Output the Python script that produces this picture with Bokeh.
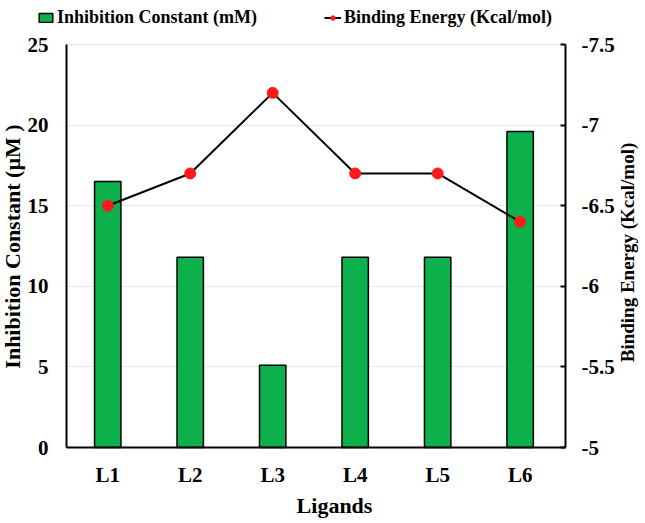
import math
from bokeh.plotting import figure
from bokeh.models import (Range1d, LinearAxis, FixedTicker, Legend, LegendItem,
                          Label)
from bokeh.embed import file_html
from bokeh.resources import INLINE

# ---- data ----
ligands = ["L1", "L2", "L3", "L4", "L5", "L6"]
inhibition = [16.5, 11.8, 5.1, 11.8, 11.8, 19.6]
energy = [-6.5, -6.7, -7.2, -6.7, -6.7, -6.4]
left_ticks = [0, 5, 10, 15, 20, 25]
left_tick_labels = ["0", "5", "10", "15", "20", "25"]
right_ticks = [-7.5, -7, -6.5, -6, -5.5, -5]
right_tick_labels = ["-7.5", "-7", "-6.5", "-6", "-5.5", "-5"]
series_names = ["Inhibition Constant (mM)", "Binding Energy (Kcal/mol)"]
axis_titles = ["Inhibition Constant (µM )", "Binding Energy (Kcal/mol)", "Ligands"]
left_min, left_max = 0, 25
right_min, right_max = -5, -7.5

FONT = "Liberation Serif"
BAR_COLOR = "#0DB14B"
DOT_COLOR = "#FF1A1A"

# ---- layout (pixels); the plot frame covers the whole page ----
W, H = 645, 523
AXIS_LEFT, AXIS_RIGHT = 66, 565
AXIS_TOP, AXIS_BOTTOM = 44, 447
cat_lo, cat_hi = 0.5, len(ligands) + 0.55       # category coords at the two value axes
px_per_cat = (AXIS_RIGHT - AXIS_LEFT) / (cat_hi - cat_lo)
x_start = cat_lo - AXIS_LEFT / px_per_cat
x_end = x_start + W / px_per_cat
lo_ext = (H - AXIS_BOTTOM) / (AXIS_BOTTOM - AXIS_TOP)
hi_ext = AXIS_TOP / (AXIS_BOTTOM - AXIS_TOP)


def extended(lo, hi):
    span = hi - lo
    return lo - span * lo_ext, hi + span * hi_ext


x_pos = [i + 1 for i in range(len(ligands))]

ly0, ly1 = extended(left_min, left_max)
ry0, ry1 = extended(right_min, right_max)

p = figure(x_range=Range1d(x_start, x_end), y_range=Range1d(ly0, ly1),
           width=W, height=H, output_backend="svg", toolbar_location=None,
           min_border_left=0, min_border_right=0, min_border_top=0,
           min_border_bottom=0)
p.extra_y_ranges = {"energy": Range1d(start=ry0, end=ry1)}
p.outline_line_color = None
p.background_fill_color = "white"
p.border_fill_color = "white"

p.xgrid.grid_line_color = None
p.ygrid.grid_line_color = "#e6e6e6"
p.ygrid.grid_line_width = 1
p.ygrid.ticker = FixedTicker(ticks=left_ticks)
try:
    p.ygrid.cross_bounds = (cat_lo, cat_hi)
except Exception:
    pass

# left axis
ya = p.yaxis[0]
ya.fixed_location = cat_lo
ya.ticker = FixedTicker(ticks=left_ticks)
ya.bounds = (left_min, left_max)
ya.major_label_overrides = {t: s for t, s in zip(left_ticks, left_tick_labels)}
ya.major_tick_in = 0
ya.major_tick_out = 0
ya.minor_tick_in = 0
ya.minor_tick_out = 0
ya.axis_line_width = 2
ya.axis_line_color = "black"
ya.major_label_standoff = 18
ya.major_label_text_font = FONT
ya.major_label_text_font_style = "bold"
ya.major_label_text_font_size = "21px"
ya.major_label_text_color = "black"

# bottom axis
xa = p.xaxis[0]
xa.fixed_location = left_min
xa.ticker = FixedTicker(ticks=x_pos)
xa.major_label_overrides = {t: s for t, s in zip(x_pos, ligands)}
xa.bounds = (cat_lo, cat_hi)
xa.major_tick_in = 0
xa.major_tick_out = 0
xa.minor_tick_in = 0
xa.minor_tick_out = 0
xa.axis_line_width = 2
xa.axis_line_color = "black"
xa.major_label_standoff = 15
xa.major_label_text_font = FONT
xa.major_label_text_font_style = "bold"
xa.major_label_text_font_size = "21px"
xa.major_label_text_color = "black"

# right axis
ra = LinearAxis(y_range_name="energy")
ra.fixed_location = cat_hi
ra.ticker = FixedTicker(ticks=right_ticks)
ra.bounds = (min(right_min, right_max), max(right_min, right_max))
ra.major_label_overrides = {t: s for t, s in zip(right_ticks, right_tick_labels)}
ra.major_tick_in = 5
ra.major_tick_out = 0
ra.minor_tick_in = 0
ra.minor_tick_out = 0
ra.major_tick_line_width = 2
ra.axis_line_width = 2
ra.axis_line_color = "black"
ra.major_label_standoff = 16
ra.major_label_text_font = FONT
ra.major_label_text_font_style = "bold"
ra.major_label_text_font_size = "21px"
ra.major_label_text_color = "black"
p.add_layout(ra, "right")

bars = p.vbar(x=x_pos, top=inhibition, width=0.32, fill_color=BAR_COLOR,
              line_color="black", line_width=1.5)
ln = p.line(x=x_pos, y=energy, y_range_name="energy", line_color="black",
            line_width=2)
pts = p.scatter(x=x_pos, y=energy, y_range_name="energy", size=11,
                fill_color=DOT_COLOR, line_color=DOT_COLOR)

# axis titles
title_kw = dict(x_units="screen", y_units="screen", text_align="center",
                text_baseline="middle", text_font=FONT,
                text_font_style="bold", text_color="black")
p.add_layout(Label(x=12, y=H - 246, text=axis_titles[0], angle=math.pi / 2,
                   text_font_size="22px", **title_kw))
p.add_layout(Label(x=627, y=H - 252, text=axis_titles[1], angle=math.pi / 2,
                   text_font_size="19px", **title_kw))
p.add_layout(Label(x=334, y=H - 505, text=axis_titles[2],
                   text_font_size="22px", **title_kw))

legend = Legend(items=[
    LegendItem(label=series_names[0], renderers=[bars]),
    LegendItem(label=series_names[1], renderers=[ln, pts]),
], orientation="horizontal", location=(37, H - 28))
legend.label_text_font = FONT
legend.label_text_font_style = "bold"
legend.label_text_font_size = "18px"
legend.label_text_color = "black"
legend.glyph_width = 17
legend.glyph_height = 11
legend.label_standoff = 3
legend.spacing = 67
legend.padding = 4
legend.margin = 0
legend.border_line_color = None
legend.background_fill_alpha = 0
p.add_layout(legend, "center")

open("out.html", "w").write(file_html(p, INLINE))
